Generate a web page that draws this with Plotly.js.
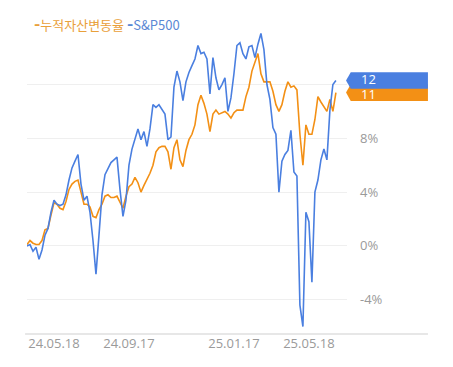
<!DOCTYPE html>
<html>
<head>
<meta charset="utf-8">
<script src="https://cdn.plot.ly/plotly-3.0.1.min.js"></script>
<style>html,body{margin:0;padding:0;background:#fff;}#chart{width:453px;height:367px;}</style>
</head>
<body>
<div id="chart"></div>
<script>
// Series values (%), one point per period
const sp500 = [0.0,0.1,-0.4,-0.1,-1.0,-0.3,0.8,1.3,2.5,3.4,3.1,3.0,3.1,3.8,4.9,5.8,6.3,6.8,4.6,3.4,
  3.7,2.5,0.4,-2.1,0.8,3.8,5.3,5.8,6.2,6.4,6.6,4.2,2.2,3.4,6.0,7.2,7.9,8.7,7.9,8.5,
  7.4,8.7,10.5,10.3,10.5,10.1,9.8,7.9,8.1,11.8,13.0,12.2,10.8,12.2,12.9,13.4,13.9,14.9,14.3,14.4,
  13.9,11.3,14.0,12.5,11.6,12.0,12.5,10.0,11.0,12.8,14.9,15.1,14.3,13.9,14.8,14.9,14.0,15.0,15.8,14.6,
  12.0,10.9,8.8,8.3,4.0,6.3,6.8,7.1,8.6,5.5,5.2,-4.4,-6.0,2.5,1.8,-2.7,4.0,4.9,6.4,7.2,
  6.4,10.1,12.0,12.3];
const asset = [0.1,0.4,0.2,0.1,0.1,0.4,1.2,1.3,2.3,3.2,3.1,2.8,2.7,3.3,4.2,4.6,4.8,4.9,4.0,3.1,
  3.1,2.9,2.2,2.1,2.7,3.1,3.7,3.8,3.6,3.6,3.7,3.3,2.8,3.7,4.4,4.6,5.1,4.7,4.0,4.5,
  4.9,5.4,6.0,7.0,7.3,7.4,7.4,7.0,5.7,7.3,7.9,6.4,5.9,7.1,7.9,8.3,9.0,10.5,11.2,10.6,
  9.8,8.5,9.8,10.1,9.8,9.9,10.0,9.8,9.5,9.9,10.1,10.1,10.1,11.1,11.8,13.0,13.7,14.3,12.8,12.2,
  12.2,12.2,11.5,10.5,10.0,10.5,11.5,12.2,11.8,11.9,11.6,8.3,6.0,9.0,8.3,8.3,9.4,11.1,10.7,10.3,
  10.0,10.9,10.0,11.4];
const seriesNames = ['누적자산변동율', 'S&P500'];
const tagLabels = ['11', '12'];
const tickIndex = [9, 34, 69, 94];
const tickLabels = ['24.05.18', '24.09.17', '25.01.17', '25.05.18'];
const yTicks = [-4, 0, 4, 8, 12];
const yTickLabels = ['-4%', '0%', '4%', '8%', ''];

const BLUE = '#4a7fe0', ORANGE = '#f39015';
const xs = sp500.map((_, i) => i);

const traces = [
  {x: xs, y: asset, type: 'scatter', mode: 'lines', name: seriesNames[0],
   line: {color: ORANGE, width: 1.6}},
  {x: xs, y: sp500, type: 'scatter', mode: 'lines', name: seriesNames[1],
   line: {color: BLUE, width: 1.6}}
];

const lastB = sp500[sp500.length - 1];
const lastA = asset[asset.length - 1];
const h = 0.62, x0 = 0.997, tip = 0.0147, x1 = 1.253;
function tag(v, color) {
  return {type: 'path', xref: 'paper', yref: 'y', layer: 'above',
    path: `M ${x0},${v} L ${x0 + tip},${v + h} L ${x1},${v + h} L ${x1},${v - h} L ${x0 + tip},${v - h} Z`,
    fillcolor: color, line: {width: 0}};
}
const dash = '<span style="font-size:17px"><b>-</b></span>';

const layout = {
  width: 453, height: 367,
  margin: {l: 27, r: 106, t: 31, b: 33},
  paper_bgcolor: '#fff', plot_bgcolor: '#fff',
  showlegend: false,
  font: {family: 'Open Sans, Noto Sans, sans-serif', color: '#999'},
  xaxis: {range: [0, 106.7], tickmode: 'array', tickvals: tickIndex, ticktext: tickLabels,
    showgrid: false, zeroline: false, showline: false, ticks: '',
    tickfont: {size: 13, color: '#9a9a9a'}, fixedrange: true},
  yaxis: {range: [-6.55, 15.98], side: 'right', tickmode: 'array', tickvals: yTicks, ticktext: yTickLabels,
    showgrid: true, gridcolor: '#efefef', gridwidth: 1, zeroline: false, showline: false,
    ticks: '', ticklabelstandoff: 12, tickfont: {size: 13, color: '#9a9a9a'}, fixedrange: true},
  shapes: [
    {type: 'line', xref: 'paper', yref: 'paper', x0: -0.006, x1: 1.253, y0: 0, y1: 0,
     line: {color: '#cfcfcf', width: 1}},
    tag(lastA, ORANGE),
    tag(lastB, BLUE)
  ],
  annotations: [
    {xref: 'paper', yref: 'paper', x: 0.017, y: 1.027, xanchor: 'left', yanchor: 'middle', showarrow: false,
     text: `<span style="color:#e9a03a">${dash}${seriesNames[0]}</span> <span style="color:#5b88d4">${dash}${seriesNames[1]}</span>`,
     font: {family: 'Noto Sans CJK KR, Noto Sans, sans-serif', size: 13}},
    {xref: 'paper', yref: 'y', x: 1.04, y: lastA, xanchor: 'left', yanchor: 'middle', showarrow: false,
     yshift: -1, borderpad: 0, text: tagLabels[0], font: {size: 13, color: '#fff'}},
    {xref: 'paper', yref: 'y', x: 1.04, y: lastB, xanchor: 'left', yanchor: 'middle', showarrow: false,
     yshift: 1, borderpad: 0, text: tagLabels[1], font: {size: 13, color: '#fff'}}
  ]
};

Plotly.newPlot('chart', traces, layout, {displayModeBar: false, staticPlot: true});
</script>
</body>
</html>
